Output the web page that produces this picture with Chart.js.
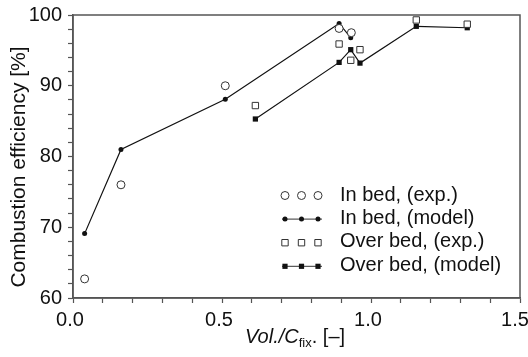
<!DOCTYPE html>
<html>
<head>
<meta charset="utf-8">
<script src="https://cdn.jsdelivr.net/npm/chart.js@4/dist/chart.umd.min.js"></script>
<style>
html,body{margin:0;padding:0;background:#fff;}
canvas{display:block;}
</style>
</head>
<body>
<canvas id="c" width="528" height="357"></canvas>
<script>
// ---- data ----
const inBedExpX   = [0.039, 0.161, 0.511, 0.893, 0.934];
const inBedExpY   = [62.7, 76.0, 90.0, 98.1, 97.5];
const inBedModX   = [0.039, 0.161, 0.511, 0.893, 0.932];
const inBedModY   = [69.1, 81.0, 88.1, 98.8, 96.8];
const overExpX    = [0.612, 0.893, 0.932, 0.963, 1.152, 1.323];
const overExpY    = [87.2, 95.9, 93.6, 95.1, 99.3, 98.7];
const overModX    = [0.612, 0.893, 0.932, 0.963, 1.152, 1.323];
const overModY    = [85.3, 93.3, 95.1, 93.2, 98.4, 98.2];
const legendLabels = ['In bed, (exp.)', 'In bed, (model)', 'Over bed, (exp.)', 'Over bed, (model)'];
const xTickLabels = ['0.0', '0.5', '1.0', '1.5'];
const yTickLabels = ['60', '70', '80', '90', '100'];
const yTitle = 'Combustion efficiency [%]';

const FONT = '"Liberation Sans", Arial, Helvetica, sans-serif';
const pts = (xs, ys) => xs.map((x, i) => ({x: x, y: ys[i]}));

const frame = {
  id: 'frame',
  afterDraw(chart) {
    const {ctx, chartArea: a} = chart;
    ctx.save();
    ctx.strokeStyle = '#555';
    ctx.lineWidth = 1.5;
    ctx.strokeRect(a.left, a.top, a.right - a.left, a.bottom - a.top);
    // legend
    const mx = [285, 301.5, 318];
    for (let i = 0; i < 4; i++) {
      const y = 195.5 + 23.6 * i;
      ctx.strokeStyle = '#333';
      ctx.lineWidth = 1;
      if (i === 1 || i === 3) {
        ctx.beginPath(); ctx.moveTo(282, y); ctx.lineTo(322, y); ctx.stroke();
      }
      mx.forEach(x => {
        ctx.beginPath();
        if (i === 0) { ctx.arc(x, y, 4, 0, Math.PI * 2); ctx.fillStyle = '#fff'; ctx.fill(); ctx.stroke(); }
        if (i === 1) { ctx.arc(x, y, 2.5, 0, Math.PI * 2); ctx.fillStyle = '#111'; ctx.fill(); }
        if (i === 2) { ctx.rect(x - 3.2, y - 3.2, 6.4, 6.4); ctx.fillStyle = '#fff'; ctx.fill(); ctx.stroke(); }
        if (i === 3) { ctx.rect(x - 2.6, y - 2.6, 5.2, 5.2); ctx.fillStyle = '#111'; ctx.fill(); }
      });
      ctx.font = '20px ' + FONT;
      ctx.textBaseline = 'alphabetic';
      ctx.textAlign = 'left';
      ctx.fillStyle = '#111';
      ctx.fillText(legendLabels[i], 340, 200.5 + 23.4 * i);
    }
    // x axis title with italic and subscript
    const parts = [
      {t: 'Vol./C', f: 'italic 20px ' + FONT, dy: 0},
      {t: 'fix', f: '13px ' + FONT, dy: 4},
      {t: '. [\u2013]', f: '20px ' + FONT, dy: 0}
    ];
    let x = 245;
    parts.forEach(p => { ctx.font = p.f; ctx.fillText(p.t, x, 342.5 + p.dy); x += ctx.measureText(p.t).width; });
    // y axis title
    ctx.translate(25, 167);
    ctx.rotate(-Math.PI / 2);
    ctx.font = '21px ' + FONT;
    ctx.textAlign = 'center';
    ctx.textBaseline = 'alphabetic';
    ctx.fillText(yTitle, 0, 0);
    ctx.restore();
  }
};

new Chart(document.getElementById('c'), {
  type: 'scatter',
  data: {
    datasets: [
      {label: legendLabels[0], data: pts(inBedExpX, inBedExpY), showLine: false, pointStyle: 'circle', pointRadius: 4, backgroundColor: '#fff', borderColor: '#333', borderWidth: 1, order: 1},
      {label: legendLabels[1], data: pts(inBedModX, inBedModY), showLine: true, pointStyle: 'circle', pointRadius: 2.5, backgroundColor: '#111', borderColor: '#111', borderWidth: 1.2, pointBorderWidth: 0, order: 2},
      {label: legendLabels[2], data: pts(overExpX, overExpY), showLine: false, pointStyle: 'rect', pointRadius: 4.5, backgroundColor: '#fff', borderColor: '#333', borderWidth: 1, order: 1},
      {label: legendLabels[3], data: pts(overModX, overModY), showLine: true, pointStyle: 'rect', pointRadius: 3.7, backgroundColor: '#111', borderColor: '#111', borderWidth: 1.2, pointBorderWidth: 0, order: 2}
    ]
  },
  options: {
    responsive: false,
    animation: false,
    events: [],
    layout: {padding: {left: 0, right: 8, top: 15, bottom: 0}},
    plugins: {legend: {display: false}, tooltip: {enabled: false}},
    scales: {
      x: {
        type: 'linear', min: 0, max: 1.5,
        afterFit: s => { s.height = 59; s.paddingLeft = 0; s.paddingRight = 0; },
        border: {color: '#555', width: 1.5},
        grid: {drawOnChartArea: false, drawTicks: true, tickLength: 5, color: '#555', tickWidth: 1.2},
        ticks: {
          stepSize: 0.1, autoSkip: false, maxRotation: 0, padding: 5, labelOffset: -3,
          color: '#111', font: {family: FONT, size: 20},
          callback: v => {
            const k = Math.round(v * 2);
            if (Math.abs(v * 2 - k) > 1e-6) return '';
            return k === xTickLabels.length - 1 ? xTickLabels[k] + '\u2009' : xTickLabels[k];
          }
        }
      },
      y: {
        type: 'linear', min: 60, max: 100,
        afterFit: s => { s.width = 73; s.paddingTop = 0; s.paddingBottom = 0; },
        border: {color: '#555', width: 1.5},
        grid: {drawOnChartArea: false, drawTicks: true, tickLength: 5, color: '#555', tickWidth: 1.2},
        title: {display: false},
        ticks: {
          stepSize: 2, autoSkip: false, padding: 6,
          color: '#111', font: {family: FONT, size: 20},
          callback: v => { const k = Math.round(v); return k % 10 === 0 ? yTickLabels[(k - 60) / 10] : ''; }
        }
      }
    }
  },
  plugins: [frame]
});
</script>
</body>
</html>
